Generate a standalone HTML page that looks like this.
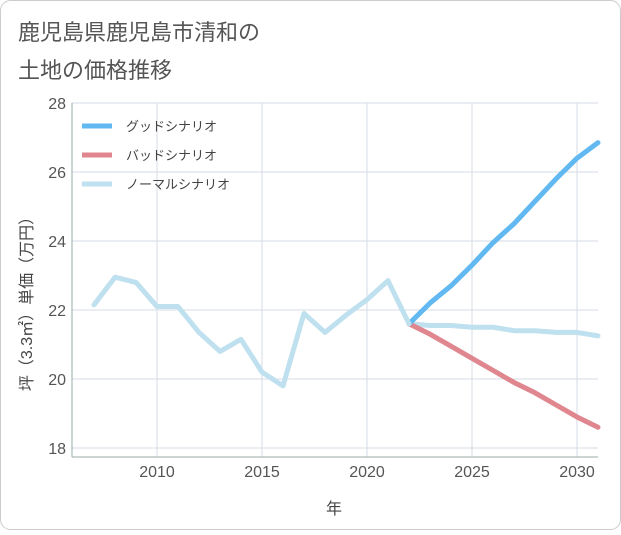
<!DOCTYPE html>
<html><head><meta charset="utf-8"><style>
body{margin:0;background:#fff;}
#wrap{position:relative;width:621px;height:530px;font-family:"Liberation Sans","Noto Sans CJK JP",sans-serif;}
svg text{font-family:"Liberation Sans","Noto Sans CJK JP",sans-serif;}
</style></head><body>
<div id="wrap">
<svg id="chart" width="621" height="530">
<rect x="0.5" y="0.5" width="620" height="529" rx="10" fill="#fff" stroke="#ccc"/>
<text x="18" y="40" font-size="22" fill="#555">鹿児島県鹿児島市清和の</text>
<text x="18" y="78" font-size="22" fill="#555">土地の価格推移</text>
<g id="grid"></g>
<g id="series"></g>
<g id="legend"></g>
<text x="334" y="514" font-size="16" fill="#444" text-anchor="middle">年</text>
<text transform="translate(32,300) rotate(-90)" font-size="16" fill="#444" text-anchor="middle">坪（3.3㎡）単価（万円）</text>
</svg>
</div>
<script>
const years=[2007,2008,2009,2010,2011,2012,2013,2014,2015,2016,2017,2018,2019,2020,2021,2022];
const normalHist=[22.15,22.95,22.8,22.1,22.1,21.35,20.8,21.15,20.2,19.8,21.9,21.35,21.85,22.3,22.85,21.6];
const futureYears=[2022,2023,2024,2025,2026,2027,2028,2029,2030,2031];
const goodVals=[21.6,22.2,22.7,23.3,23.95,24.5,25.15,25.8,26.4,26.85];
const badVals=[21.6,21.3,20.95,20.6,20.25,19.9,19.6,19.25,18.9,18.6];
const normalFuture=[21.6,21.55,21.55,21.5,21.5,21.4,21.4,21.35,21.35,21.25];
const xTicks=[2010,2015,2020,2025,2030];
const yTicks=[18,20,22,24,26,28];
const NS="http://www.w3.org/2000/svg";
const L=72,R=598,T=103,B=457;
const x=v=>157+(v-2010)*21;
const y=v=>448-(v-18)*34.5;
const grid=document.getElementById('grid'),ser=document.getElementById('series'),leg=document.getElementById('legend');
function mk(p,tag,a){const e=document.createElementNS(NS,tag);for(const k in a)e.setAttribute(k,a[k]);p.appendChild(e);return e;}
let bg=mk(grid,'rect',{x:L,y:T,width:R-L,height:B-T,fill:'#fff'});


yTicks.forEach(t=>{
 const l=mk(grid,'line',{x1:L,x2:R,y1:y(t),y2:y(t),stroke:'#d5dce4'});
 
 
 const tx=mk(grid,'text',{x:L-6,y:y(t)+6,'font-size':16,fill:'#555','text-anchor':'end'});tx.textContent=t;
 
 
});
xTicks.forEach(t=>{
 const l=mk(grid,'line',{x1:x(t),x2:x(t),y1:T,y2:B,stroke:'#d5dce4'});
 
 
 const tx=mk(grid,'text',{x:x(t),y:B+20,'font-size':16,fill:'#555','text-anchor':'middle'});tx.textContent=t;
 
 
});
const ax=mk(grid,'line',{x1:L,x2:L,y1:T,y2:B,stroke:'#9aa'});


const ax2=mk(grid,'line',{x1:L,x2:R,y1:B,y2:B,stroke:'#9aa'});


function line(xs,vs,col,name){
 const p=mk(ser,'polyline',{points:xs.map((v,i)=>x(v)+','+y(vs[i])).join(' '),fill:'none',stroke:col,'stroke-width':5,'stroke-linejoin':'round','stroke-linecap':'round'});
 
 
}
line(futureYears,normalFuture,'#bfe0ee','normal-scenario-future-line');
line(futureYears,badVals,'#e0868f','bad-scenario-line');
line(futureYears,goodVals,'#62b8f0','good-scenario-line');
line(years,normalHist,'#bfe0ee','normal-scenario-history-line');
[['グッドシナリオ','#62b8f0','legend-good'],['バッドシナリオ','#e0868f','legend-bad'],['ノーマルシナリオ','#bfe0ee','legend-normal']].forEach((d,i)=>{
 const g=mk(leg,'g',{});
 
 
 mk(g,'line',{x1:82,x2:112,y1:126+i*29,y2:126+i*29,stroke:d[1],'stroke-width':5});
 const t=mk(g,'text',{x:126,y:131+i*29,'font-size':13,fill:'#444'});t.textContent=d[0];
});
</script>
</body></html>
